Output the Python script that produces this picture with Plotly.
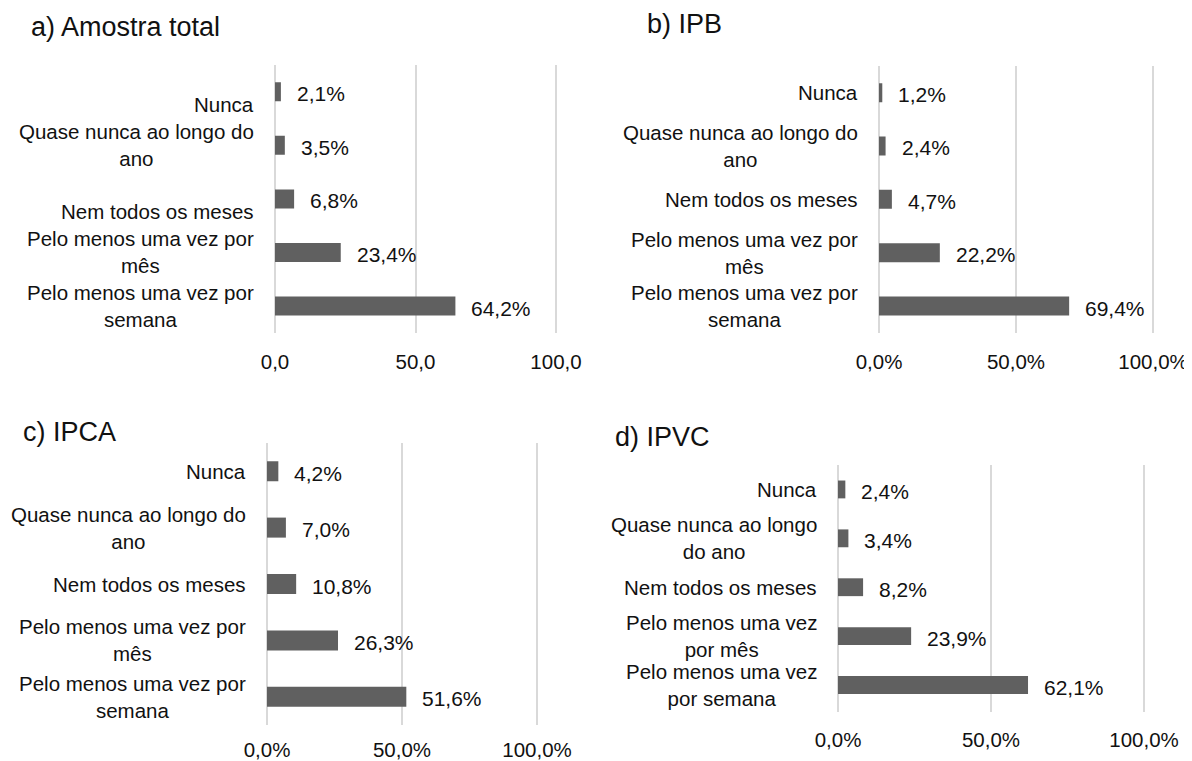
import plotly.graph_objects as go

# ---------------- data ----------------
categories = ["Nunca", "Quase nunca ao longo do ano", "Nem todos os meses",
              "Pelo menos uma vez por mês", "Pelo menos uma vez por semana"]

labels_abc = ["Nunca", "Quase nunca ao longo do<br>ano", "Nem todos os meses",
              "Pelo menos uma vez por<br>mês", "Pelo menos uma vez por<br>semana"]
labels_d = ["Nunca", "Quase nunca ao longo<br>do ano", "Nem todos os meses",
            "Pelo menos uma vez<br>por mês", "Pelo menos uma vez<br>por semana"]

values_total = [2.1, 3.5, 6.8, 23.4, 64.2]
values_ipb = [1.2, 2.4, 4.7, 22.2, 69.4]
values_ipca = [4.2, 7.0, 10.8, 26.3, 51.6]
values_ipvc = [2.4, 3.4, 8.2, 23.9, 62.1]

tickvals = [0, 50, 100]
ticktext_total = ["0,0", "50,0", "100,0"]
ticktext_pct = ["0,0%", "50,0%", "100,0%"]

titles = ["a) Amostra total", "b) IPB", "c) IPCA", "d) IPVC"]

# ---------------- layout helpers ----------------
W, H = 1192, 761
OFF = 8          # the page body margin shifts the figure by 8 px
FONT = "Liberation Sans, Arial, sans-serif"
TXT = "#111111"
BAR = "#606060"
GRID = "#d9d9d9"
XMAX = 101       # a little past 100 so the 100 gridline is drawn
LABEL_SIZE = 20.5
TICK_SIZE = 20.5
VALUE_SIZE = 21
TITLE_SIZE = 27


def xd(x0, x100):
    x0 -= OFF
    x100 -= OFF
    right = x0 + (x100 - x0) * XMAX / 100.0
    return [x0 / W, right / W]


def yd(top, bottom):
    return [1 - (bottom - OFF) / H, 1 - (top - OFF) / H]


panels = [
    dict(vals=values_total, labels=labels_abc, ticks=ticktext_total,
         xdom=xd(275, 556), ydom=yd(65, 333), title=titles[0], tpos=(29, 27),
         cat_dy=[-13, 0, -13, 0, 0], gap=0.645, standoff=14),
    dict(vals=values_ipb, labels=labels_abc, ticks=ticktext_pct,
         xdom=xd(879, 1153), ydom=yd(66, 333), title=titles[1], tpos=(645, 24),
         cat_dy=[0, 0, 0, 0, 0], gap=0.645, standoff=14),
    dict(vals=values_ipca, labels=labels_abc, ticks=ticktext_pct,
         xdom=xd(267, 537), ydom=yd(443, 725), title=titles[2], tpos=(21, 432),
         cat_dy=[0, 0, 0, 0, 0], gap=0.645, standoff=10),
    dict(vals=values_ipvc, labels=labels_d, ticks=ticktext_pct,
         xdom=xd(838, 1144), ydom=yd(465, 712), title=titles[3], tpos=(613, 437),
         cat_dy=[0, 0, 0, 0, 0], gap=0.635, standoff=13),
]

fig = go.Figure()
annotations = []
layout = dict(
    template="none",
    width=W, height=H,
    margin=dict(l=0, r=0, t=0, b=0, pad=0, autoexpand=False),
    paper_bgcolor="white", plot_bgcolor="white",
    showlegend=False,
    font=dict(family=FONT, size=LABEL_SIZE, color=TXT),
)

for i, p in enumerate(panels, start=1):
    sfx = "" if i == 1 else str(i)
    xa, ya = "x" + sfx, "y" + sfx
    fig.add_trace(go.Bar(
        x=p["vals"], y=categories, orientation="h",
        width=1 - p["gap"],
        marker=dict(color=BAR, line=dict(width=0)),
        xaxis=xa, yaxis=ya, hoverinfo="skip",
    ))
    layout["xaxis" + sfx] = dict(
        domain=p["xdom"], anchor=ya, range=[0, XMAX], autorange=False,
        tickvals=tickvals, ticktext=p["ticks"],
        showgrid=True, gridcolor=GRID, gridwidth=1.5,
        zeroline=True, zerolinecolor=GRID, zerolinewidth=1.5,
        showline=False, ticks="", ticklabelstandoff=p["standoff"],
        automargin=False,
        tickfont=dict(family=FONT, size=TICK_SIZE, color=TXT),
        fixedrange=True,
    )
    layout["yaxis" + sfx] = dict(
        domain=p["ydom"], anchor=xa,
        categoryorder="array", categoryarray=categories,
        autorange="reversed", showticklabels=False, automargin=False,
        showgrid=False, zeroline=False, showline=False, ticks="",
        fixedrange=True,
    )
    # category labels
    for cat, lab, dy in zip(categories, p["labels"], p["cat_dy"]):
        annotations.append(dict(
            x=0, y=cat, xref=xa, yref=ya, text=lab, showarrow=False,
            xanchor="right", yanchor="middle", align="center",
            xshift=-19, yshift=dy,
            font=dict(family=FONT, size=LABEL_SIZE, color=TXT),
        ))
    # value labels
    for cat, v in zip(categories, p["vals"]):
        annotations.append(dict(
            x=v, y=cat, xref=xa, yref=ya,
            text=f"{v:.1f}".replace(".", ",") + "%", showarrow=False,
            xanchor="left", yanchor="middle", xshift=14, yshift=-2,
            font=dict(family=FONT, size=VALUE_SIZE, color=TXT),
        ))
    # panel title
    tx, ty = p["tpos"]
    annotations.append(dict(
        x=(tx - OFF) / W, y=1 - (ty - OFF) / H, xref="paper", yref="paper",
        text=p["title"], showarrow=False, xanchor="left", yanchor="middle",
        font=dict(family=FONT, size=TITLE_SIZE, color=TXT),
    ))

layout["annotations"] = annotations
fig.update_layout(**layout)

fig.write_html("out.html")
